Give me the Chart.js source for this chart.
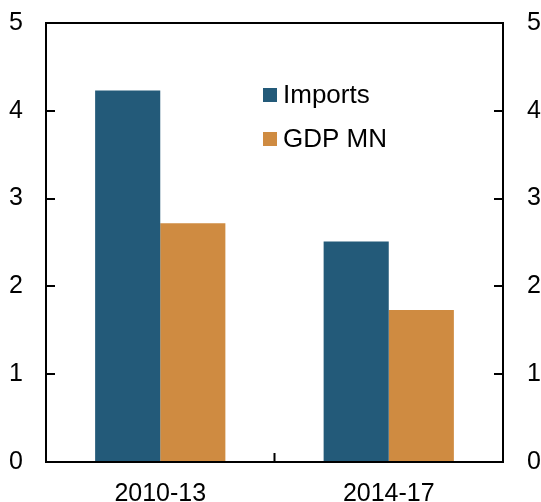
<!DOCTYPE html>
<html>
<head>
<meta charset="utf-8">
<script src="https://cdn.jsdelivr.net/npm/chart.js@4"></script>
<style>
  html, body { margin: 0; padding: 0; background: #fff; }
  #wrap { width: 541px; height: 502px; }
</style>
</head>
<body>
<div id="wrap"><canvas id="myChart" width="541" height="502"></canvas></div>
<script>
const categories = ['2010-13', '2014-17'];
const imports = [4.23, 2.51];
const gdpMN = [2.72, 1.73];
const yTicks = [0, 1, 2, 3, 4, 5];

const FONT = '"Liberation Sans", Arial, sans-serif';

// box round the plot, inward ticks and the legend inside the plot
const framePlugin = {
  id: 'frame',
  afterDraw(chart) {
    const { ctx, chartArea: a } = chart;
    const y = chart.scales.y;
    const x = chart.scales.x;
    ctx.save();
    ctx.strokeStyle = '#000';
    ctx.lineWidth = 2;
    ctx.strokeRect(a.left, a.top, a.right - a.left, a.bottom - a.top);
    ctx.beginPath();
    yTicks.slice(1, -1).forEach(v => {
      const py = Math.round(y.getPixelForValue(v));
      ctx.moveTo(a.left, py); ctx.lineTo(a.left + 9, py);
      ctx.moveTo(a.right, py); ctx.lineTo(a.right - 9, py);
    });
    const mid = (x.getPixelForValue(0) + x.getPixelForValue(1)) / 2;
    ctx.moveTo(mid, a.bottom); ctx.lineTo(mid, a.bottom - 9);
    ctx.stroke();

    ctx.font = '26px ' + FONT;
    ctx.textBaseline = 'alphabetic';
    const rows = [103, 147];
    chart.data.datasets.forEach((ds, i) => {
      ctx.fillStyle = ds.backgroundColor;
      ctx.fillRect(263, rows[i] - 15, 14, 14);
      ctx.fillStyle = '#000';
      ctx.fillText(ds.label, 283, rows[i]);
    });
    ctx.restore();
  }
};

const noPad = (s) => { s.paddingTop = 0; s.paddingBottom = 0; s.paddingLeft = 0; s.paddingRight = 0; };

new Chart(document.getElementById('myChart'), {
  type: 'bar',
  data: {
    labels: categories,
    datasets: [
      { label: 'Imports', data: imports, backgroundColor: '#235a79', yAxisID: 'y' },
      { label: 'GDP MN', data: gdpMN, backgroundColor: '#cf8b41', yAxisID: 'y' }
    ]
  },
  options: {
    responsive: false,
    animation: false,
    layout: { padding: { top: 23, left: 0, right: 0, bottom: 0 } },
    datasets: { bar: { categoryPercentage: 0.57, barPercentage: 1.0 } },
    plugins: { legend: { display: false }, tooltip: { enabled: false } },
    scales: {
      x: {
        grid: { display: false, drawTicks: false },
        border: { display: false },
        ticks: { color: '#000', font: { family: FONT, size: 25 }, padding: 17 },
        afterFit(s) { s.height = 40; noPad(s); }
      },
      y: {
        position: 'left',
        min: 0, max: 5,
        grid: { display: false, drawTicks: false },
        border: { display: false },
        ticks: { stepSize: 1, color: '#000', font: { family: FONT, size: 25 }, padding: 23 },
        afterFit(s) { s.width = 46; noPad(s); }
      },
      y2: {
        position: 'right',
        min: 0, max: 5,
        grid: { display: false, drawTicks: false },
        border: { display: false },
        ticks: { stepSize: 1, color: '#000', font: { family: FONT, size: 25 }, padding: 24 },
        afterFit(s) { s.width = 38; noPad(s); }
      }
    }
  },
  plugins: [framePlugin]
});
</script>
</body>
</html>
